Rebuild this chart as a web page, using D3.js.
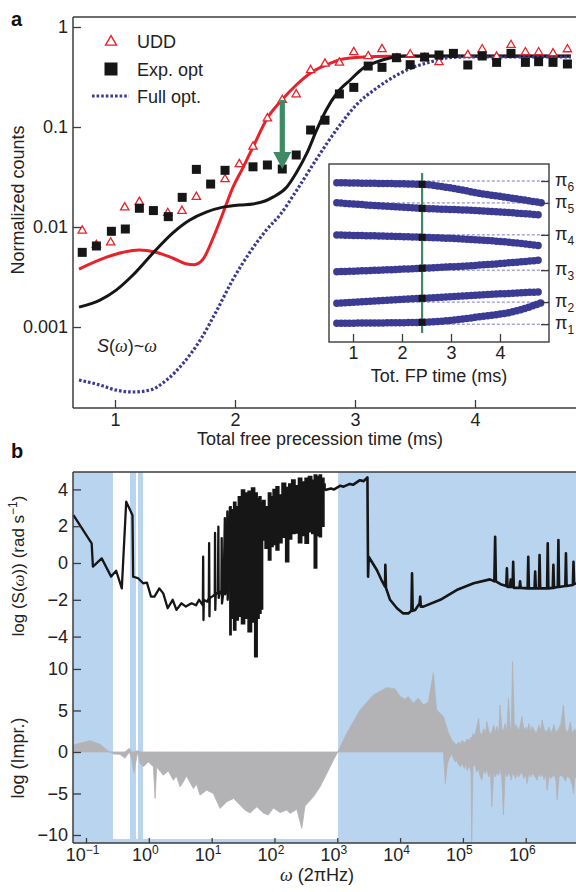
<!DOCTYPE html>
<html><head><meta charset="utf-8">
<script src="https://cdn.jsdelivr.net/npm/d3@7"></script>
<style>
body{margin:0;background:#fff;}
svg{display:block;font-family:"Liberation Sans",Arial,Helvetica,sans-serif;}
</style></head><body>
<svg id="chart" width="576" height="892"></svg>
<script>
// ---------------- Panel a data ----------------
const udaT = [0.727,0.845,0.964,1.081,1.203,1.44,1.558,1.678,1.917,2.036,2.15,2.27,2.394,2.51,2.63,2.75,2.87,2.99,3.11,3.225,3.35,3.46,3.58,3.70,3.94,4.06,4.18,4.30,4.42,4.53,4.65,4.77];
const udaV = [0.0092,0.0066,0.0070,0.0157,0.0178,0.0138,0.0145,0.0200,0.0300,0.0425,0.0636,0.122,0.186,0.212,0.37,0.43,0.44,0.56,0.51,0.60,0.486,0.533,0.49,0.444,0.525,0.598,0.505,0.66,0.558,0.558,0.545,0.598];
const expT = [0.727,0.845,0.97,1.086,1.203,1.32,1.444,1.56,1.678,1.797,1.917,2.15,2.27,2.394,2.51,2.63,2.75,2.87,2.99,3.11,3.225,3.345,3.46,3.58,3.70,3.82,3.94,4.06,4.18,4.30,4.42,4.53,4.65,4.77];
const expV = [0.00558,0.00646,0.00906,0.00955,0.0154,0.0146,0.0127,0.0198,0.0377,0.0269,0.0369,0.040,0.0417,0.038,0.0525,0.0933,0.117,0.214,0.249,0.407,0.395,0.493,0.42,0.50,0.525,0.545,0.417,0.513,0.443,0.545,0.443,0.45,0.443,0.427];
const uddFitT = [0.70,0.93,1.07,1.20,1.34,1.48,1.59,1.66,1.73,1.82,1.90,1.98,2.07,2.15,2.27,2.39,2.51,2.63,2.76,2.90,3.07,3.29,3.6,4.2,4.8];
const uddFitV = [0.0038,0.0050,0.0056,0.0059,0.0056,0.0049,0.0043,0.0042,0.0047,0.0079,0.0138,0.0245,0.040,0.063,0.123,0.186,0.263,0.347,0.417,0.479,0.501,0.51,0.51,0.51,0.51];
const expFitT = [0.70,0.875,1.01,1.15,1.34,1.48,1.62,1.76,1.90,2.04,2.15,2.25,2.32,2.43,2.51,2.60,2.68,2.76,2.85,2.96,3.07,3.18,3.29,3.40,4.0,4.8];
const expFitV = [0.00158,0.00186,0.00234,0.00331,0.00589,0.0087,0.0117,0.0141,0.0158,0.0166,0.0170,0.0182,0.020,0.025,0.0347,0.055,0.093,0.148,0.219,0.295,0.389,0.447,0.49,0.513,0.513,0.513];
const fullT = [0.70,0.875,1.01,1.15,1.29,1.43,1.57,1.71,1.85,1.98,2.12,2.26,2.375,2.51,2.68,2.85,3.01,3.18,3.35,3.49,3.63,3.76,3.9,4.3,4.8];
const fullV = [0.000295,0.000263,0.000234,0.000224,0.000234,0.000295,0.000437,0.00074,0.00148,0.00295,0.0055,0.0093,0.0132,0.0229,0.0479,0.0955,0.166,0.245,0.331,0.398,0.447,0.490,0.501,0.501,0.501];
const aYTicks = [0.001,0.01,0.1,1];
const aYTickLabels = ["0.001","0.01","0.1","1"];
const aXTicks = [1,2,3,4];
const arrowT = 2.394, arrowFrom = 0.186, arrowTo = 0.038;

// inset: pulse positions (fraction of total time) vs total FP time
const p6T = [0.67,1.5,2.41,3.0,3.59,4.27,4.85], p6V = [0.939,0.935,0.929,0.906,0.872,0.841,0.813];
const p5T = [0.67,2.41,3.59,4.85], p5V = [0.813,0.778,0.763,0.736];
const p4T = [0.67,2.41,3.59,4.27,4.85], p4V = [0.610,0.596,0.579,0.562,0.541];
const p3T = [0.67,2.41,3.59,4.85], p3V = [0.379,0.401,0.421,0.453];
const p2T = [0.67,2.41,3.59,4.85], p2V = [0.181,0.212,0.233,0.253];
const p1T = [0.67,2.41,3.59,4.27,4.85], p1V = [0.055,0.061,0.096,0.128,0.184];
const insetMarkT = 2.41;
const piTicks = [0.049,0.188,0.389,0.611,0.812,0.950];
const piLabels = ["1","2","3","4","5","6"];
const insetXTicks = [1,2,3,4];

// ---------------- Panel b data ----------------
const noiseLw = [-1.2,-0.91,-0.89,-0.75,-0.60,-0.52,-0.43,-0.36,-0.26,-0.25,-0.17,-0.09,-0.03,0.035,0.09,0.167,0.23,0.30,0.38,0.44,0.52,0.59,0.68,0.75,0.80,0.86,0.865,0.87,0.875,0.93,0.955,0.96,0.965,0.97,1.02,1.05,1.054,1.058,1.065,1.10,1.107,1.112,1.13,1.155,1.16,1.165,1.19,1.21,1.215,1.23,1.25,1.255,1.27,1.29];
const noiseV  = [2.6,1.07,-0.2,0.25,-0.74,-0.42,-1.38,3.33,2.6,-0.74,-0.83,-1.1,-1.07,-1.83,-1.83,-1.38,-1.65,-2.46,-2.0,-2.55,-2.19,-2.37,-2.19,-2.3,-2.0,-2.3,0.34,-3.1,-2.0,-2.1,-1.9,1.08,-2.9,-1.9,-1.8,-1.7,1.63,-2.55,-1.7,-1.6,1.97,-1.9,-1.6,-1.5,1.35,-2.2,-1.5,2.44,-1.7,-1.4,2.8,-2.0,-1.4,3.06];
const denseLw = [1.29,1.33,1.37,1.40,1.45,1.50,1.55,1.61,1.66,1.71,1.74,1.77,1.80,1.823,1.877,1.93,1.956,2.00,2.05,2.09,2.15,2.206,2.248,2.30,2.355,2.408,2.46,2.514,2.567,2.62,2.646,2.70,2.726,2.77,2.806];
const denseHi = [3.06,2.9,3.3,3.06,3.6,3.97,3.8,3.9,4.07,3.8,3.5,3.6,3.3,3.4,3.06,3.8,3.6,4.0,4.15,3.7,4.33,4.1,4.3,4.51,4.2,4.6,4.4,4.6,4.7,4.5,4.78,4.7,4.78,4.6,4.3];
const denseLo = [-3.9,-3.0,-3.64,-3.1,-2.9,-3.3,-3.0,-3.73,-3.2,-5.1,-3.0,-2.73,-2.5,1.25,0.8,0.16,0.9,1.0,0.7,1.1,1.4,0.07,1.3,1.6,1.63,1.1,1.5,1.08,1.7,1.6,-0.27,1.5,1.43,2.0,3.97];
const tailLw = [2.806,2.90,2.95,3.05,3.10,3.20,3.25,3.36,3.42,3.48,3.49,3.50,3.63,3.70,3.76,3.765,3.775,3.84,3.95,4.05,4.13,4.18,4.19,4.20,4.24,4.31,4.32,4.33,4.37,4.64,4.90,5.17,5.43,5.50,5.513,5.525,5.60,5.69,5.70,5.71,5.75,5.76,5.77,5.79,5.80,5.81,5.90,5.91,5.92,6.03,6.04,6.05,6.14,6.15,6.16,6.21,6.22,6.23,6.34,6.35,6.36,6.43,6.44,6.45,6.51,6.52,6.53,6.63,6.64,6.65,6.75,6.76,6.77,6.8];
const tailV  = [3.97,4.05,4.0,4.2,4.15,4.3,4.25,4.5,4.45,4.65,-0.74,0.34,-0.38,-0.9,-1.29,-0.1,-1.35,-2.0,-2.46,-2.74,-2.74,-2.6,-0.56,-2.6,-2.55,-2.2,-1.83,-2.37,-2.37,-2.0,-1.47,-1.1,-0.89,-1.0,1.43,-1.0,-1.15,-1.25,-0.29,-1.3,-1.3,-0.9,-1.3,-1.3,0.07,-1.35,-1.35,-1.0,-1.35,-1.38,0.34,-1.38,-1.38,-0.47,-1.38,-1.38,0.43,-1.38,-1.38,1.07,-1.38,-1.35,-0.1,-1.35,-1.3,1.25,-1.3,-1.25,0.53,-1.25,-1.2,0.07,-1.15,-1.1];
const imprLw = [-1.2,-0.936,-0.777,-0.67,-0.62,-0.565,-0.46,-0.38,-0.31,-0.27,-0.236,-0.18,-0.14,-0.088,-0.008,0.072,0.10,0.126,0.23,0.31,0.39,0.44,0.497,0.55,0.60,0.71,0.76,0.815,0.92,1.027,1.08,1.134,1.24,1.35,1.452,1.53,1.611,1.72,1.823,1.90,1.983,2.09,2.196,2.248,2.355,2.435,2.487,2.62,2.726,2.833,2.94,3.008,3.151,3.363,3.575,3.788,3.92,4.0,4.08,4.13,4.21,4.29,4.37,4.45,4.53,4.58,
  4.69,4.72,4.75,4.77,4.80,4.82,4.85,4.88,4.90,4.93,
  4.96,4.99,5.02,5.04,5.07,5.10,5.13,5.14,5.16,5.19,
  5.22,5.25,5.27,5.30,5.33,5.36,5.38,5.41,5.44,5.46,
  5.49,5.52,5.54,5.57,5.59,5.62,5.645,5.67,5.70,5.725,
  5.75,5.77,5.79,5.82,5.84,5.86,5.89,5.92,5.94,5.97,
  6.00,6.02,6.05,6.08,6.10,6.13,6.16,6.18,6.21,6.24,
  6.26,6.29,6.32,6.34,6.37,6.40,6.42,6.45,6.48,6.50,
  6.53,6.56,6.60,6.63,6.66,6.68,6.71,6.74,6.76,6.78,
  6.80];
const imprHi = [0.84,1.36,0.93,0.24,0,0,0,0,0.44,0,0,0.16,0,0,0,0,0,0,0,0,0,0,0,0,0,0,0,0,0,0,0,0,0,0,0,0,0,0,0,0,0,0,0,0,0,0,0,0,0,0,0,0,2.25,5.06,6.87,7.75,7.6,6.67,6.35,6.67,5.86,6.5,5.66,6.0,9.55,5.06,
  4.26,3.5,2.8,2.25,1.8,1.5,1.2,1.0,0.84,1.2,
  1.0,1.4,1.1,1.2,1.6,1.3,1.8,1.5,2.2,2.0,
  3.0,4.06,2.4,2.0,2.8,2.2,3.66,2.6,2.0,2.5,
  3.2,2.4,3.06,2.2,5.66,2.8,2.5,3.4,2.6,6.46,
  3.0,2.4,10.9,2.7,3.3,3.0,2.6,3.5,4.26,2.6,
  3.0,2.5,3.4,2.4,3.06,2.7,2.3,2.5,3.2,2.6,
  3.86,2.8,2.4,2.5,3.0,2.2,2.6,3.3,2.4,2.5,
  2.9,3.4,5.66,2.8,2.4,2.5,3.6,2.2,2.5,2.8,
  2.25];
const imprLo = [0,0,0,0,0,-0.24,-0.28,-0.76,0,-0.9,-2.5,0,-1.37,-1.77,-1.2,-1.77,-5.6,-1.8,-2.8,-2.3,-3.4,-2.9,-4.2,-3.6,-2.9,-4.4,-3.9,-5.2,-4.6,-5.0,-5.9,-6.8,-6.0,-5.6,-6.4,-7.0,-7.35,-6.6,-7.35,-7.6,-6.75,-7.3,-7.0,-7.4,-6.9,-9.2,-6.5,-5.4,-4.2,-2.6,-0.96,0,0,0,0,0,0,0,0,0,0,0,0,0,0,0,
  0,-3.8,-1.5,-1.0,-0.5,-0.2,-0.8,-1.2,-1.0,-1.5,
  -1.8,-1.3,-2.0,-1.5,-2.2,-1.6,-2.5,-10.8,-1.8,-1.5,
  -2.4,-2.0,-2.8,-3.4,-2.2,-2.6,-2.0,-3.0,-2.5,-6.6,
  -2.4,-3.0,-2.5,-2.8,-2.0,-3.2,-7.6,-2.6,-3.0,-2.5,
  -2.8,-3.4,-2.6,-2.8,-3.2,-2.6,-3.0,-2.5,-2.5,-3.2,
  -2.7,-3.8,-2.6,-3.0,-2.5,-2.8,-3.1,-3.4,-2.6,-3.0,
  -2.5,-3.3,-2.8,-4.6,-2.9,-3.2,-3.0,-2.7,-3.4,-5.8,
  -3.0,-2.8,-3.0,-3.5,-2.9,-3.0,-3.3,-4.0,-5.0,-3.2,
  -3.0];
const shadeFrom = [-1.207,-0.30,-0.172,3.013];
const shadeTo   = [-0.57,-0.204,-0.092,6.8];
const bXTicks = [-1,0,1,2,3,4,5,6];
const bTopTicks = [-4,-2,0,2,4];
const bBotTicks = [-10,-5,0,5,10];

// ---------------- drawing ----------------
const svg = d3.select("#chart");
const AX = "#3c3c3c", RED = "#e8212b", BLK = "#161616", NAVY = "#3b3b93", GREEN = "#3e8a65";
const BLUE = "#b9d4ee", GREY = "#b3b3b6";
const minus = v => (v < 0 ? "\u2212" + (-v) : String(v));

// ===== Panel a =====
const xA = d3.scaleLinear().domain([0.65, 4.84]).range([73, 575.8]);
const yA = d3.scaleLog().domain([0.000155, 1.259]).range([408, 17]);
const lineA = (T, V) => d3.line().x((d, i) => xA(T[i])).y((d, i) => yA(V[i])).curve(d3.curveMonotoneX)(T);

const gA = svg.append("g");
gA.append("path").attr("d", lineA(uddFitT, uddFitV)).attr("fill", "none").attr("stroke", RED).attr("stroke-width", 3);
gA.append("path").attr("d", lineA(expFitT, expFitV)).attr("fill", "none").attr("stroke", BLK).attr("stroke-width", 3);
gA.append("path").attr("d", lineA(fullT, fullV)).attr("fill", "none").attr("stroke", NAVY).attr("stroke-width", 3.2).attr("stroke-dasharray", "2.6,2");

const tri = d3.symbol().type(d3.symbolTriangle);
gA.selectAll(".tri").data(udaT).join("path")
  .attr("transform", (d, i) => `translate(${xA(d)},${yA(udaV[i])})`)
  .attr("d", tri.size(30)()).attr("fill", "#fff").attr("stroke", RED).attr("stroke-width", 1.3);
gA.selectAll(".sq").data(expT).join("rect")
  .attr("x", d => xA(d) - 4.5).attr("y", (d, i) => yA(expV[i]) - 4.5)
  .attr("width", 9).attr("height", 9).attr("fill", BLK);

// arrow
{
  const ax = xA(arrowT), y0 = yA(arrowFrom), y1 = yA(arrowTo);
  gA.append("rect").attr("x", ax - 2.6).attr("y", y0).attr("width", 5.2).attr("height", y1 - y0 - 15).attr("fill", GREEN);
  gA.append("path").attr("d", `M${ax - 9},${y1 - 17}L${ax + 9},${y1 - 17}L${ax},${y1}Z`).attr("fill", GREEN);
}

// axes panel a
gA.append("line").attr("x1", 73).attr("x2", 576).attr("y1", 17).attr("y2", 17).attr("stroke", AX).attr("stroke-width", 1.5);
const axAY = gA.append("g").attr("transform", "translate(73,0)")
  .call(d3.axisLeft(yA).tickValues(aYTicks).tickFormat((d, i) => aYTickLabels[i]).tickSize(-8).tickSizeOuter(0).tickPadding(5));
const axAX = gA.append("g").attr("transform", "translate(0,408)")
  .call(d3.axisBottom(xA).tickValues(aXTicks).tickFormat(d3.format("d")).tickSize(-8).tickSizeOuter(0).tickPadding(5));
[axAY, axAX].forEach(g => {
  g.attr("font-size", 18).attr("font-family", null).style("color", AX);
  g.select(".domain").remove();
  g.selectAll(".tick line").attr("stroke-width", 1.3);
  g.selectAll("text").attr("fill", "#222");
});
gA.append("line").attr("x1", 73).attr("x2", 73).attr("y1", 17).attr("y2", 408).attr("stroke", AX).attr("stroke-width", 1.5);
gA.append("line").attr("x1", 73).attr("x2", 576).attr("y1", 408).attr("y2", 408).attr("stroke", AX).attr("stroke-width", 1.5);

gA.append("text").attr("transform", "translate(24,200) rotate(-90)").attr("text-anchor", "middle")
  .attr("font-size", 18).attr("fill", "#222").text("Normalized counts");
gA.append("text").attr("x", 320).attr("y", 445).attr("text-anchor", "middle")
  .attr("font-size", 18).attr("fill", "#222").text("Total free precession time (ms)");
svg.append("text").attr("x", 11).attr("y", 26).attr("font-size", 20).attr("font-weight", "bold").attr("fill", "#111").text("a");

// S(w)~w annotation
{
  const t = gA.append("text").attr("x", 97).attr("y", 352).attr("font-size", 18).attr("fill", "#222");
  t.append("tspan").attr("font-style", "italic").text("S");
  t.append("tspan").text("(");
  t.append("tspan").attr("font-style", "italic").attr("font-family", "Liberation Serif, serif").text("\u03c9");
  t.append("tspan").text(")~");
  t.append("tspan").attr("font-style", "italic").attr("font-family", "Liberation Serif, serif").text("\u03c9");
}

// legend
{
  const lg = gA.append("g");
  lg.append("path").attr("transform", "translate(111,42)").attr("d", tri.size(52)()).attr("fill", "#fff").attr("stroke", RED).attr("stroke-width", 1.4);
  lg.append("text").attr("x", 137).attr("y", 47.5).attr("font-size", 18).attr("fill", "#222").text("UDD");
  lg.append("rect").attr("x", 104.5).attr("y", 62.5).attr("width", 13).attr("height", 13).attr("fill", BLK);
  lg.append("text").attr("x", 137).attr("y", 75.5).attr("font-size", 18).attr("fill", "#222").text("Exp. opt");
  lg.append("line").attr("x1", 92).attr("x2", 129).attr("y1", 96).attr("y2", 96).attr("stroke", NAVY).attr("stroke-width", 3.2).attr("stroke-dasharray", "2.6,2");
  lg.append("text").attr("x", 137).attr("y", 102.5).attr("font-size", 18).attr("fill", "#222").text("Full opt.");
}

// inset
{
  const xI = d3.scaleLinear().domain([0.51, 5.0]).range([329, 549]);
  const yI = d3.scaleLinear().domain([-0.063, 1.057]).range([342, 164]);
  const gI = svg.append("g");
  gI.append("rect").attr("x", 329).attr("y", 164).attr("width", 220).attr("height", 178).attr("fill", "#fff");
  gI.selectAll(".lev").data(piTicks).join("line")
    .attr("x1", xI(0.67)).attr("x2", 549).attr("y1", d => yI(d)).attr("y2", d => yI(d))
    .attr("stroke", "#6b6bb5").attr("stroke-width", 0.9).attr("stroke-dasharray", "3,2");
  const series = [[p1T, p1V], [p2T, p2V], [p3T, p3V], [p4T, p4V], [p5T, p5V], [p6T, p6V]];
  const lineI = (T, V) => d3.line().x((d, i) => xI(T[i])).y((d, i) => yI(V[i])).curve(d3.curveMonotoneX)(T);
  series.forEach(([T, V]) => {
    gI.append("path").attr("d", lineI(T, V)).attr("fill", "none").attr("stroke", NAVY)
      .attr("stroke-width", 7.5).attr("stroke-linecap", "round").attr("stroke-dasharray", "0,4.2");
  });
  gI.append("line").attr("x1", xI(insetMarkT)).attr("x2", xI(insetMarkT)).attr("y1", yI(1.0)).attr("y2", yI(-0.006))
    .attr("stroke", GREEN).attr("stroke-width", 2.2);
  series.forEach(([T, V]) => {
    const v = V[T.indexOf(insetMarkT)];
    gI.append("rect").attr("x", xI(insetMarkT) - 3.5).attr("y", yI(v) - 3.5).attr("width", 7).attr("height", 7).attr("fill", BLK);
  });
  gI.append("rect").attr("x", 329).attr("y", 164).attr("width", 220).attr("height", 178).attr("fill", "none").attr("stroke", AX).attr("stroke-width", 1.4);
  const axIX = gI.append("g").attr("transform", "translate(0,342)")
    .call(d3.axisBottom(xI).tickValues(insetXTicks).tickFormat(d3.format("d")).tickSize(-8).tickSizeOuter(0).tickPadding(4));
  const axIY = gI.append("g").attr("transform", "translate(549,0)")
    .call(d3.axisRight(yI).tickValues(piTicks).tickFormat("").tickSize(-8).tickSizeOuter(0));
  [axIX, axIY].forEach(g => {
    g.attr("font-size", 18).attr("font-family", null).style("color", AX);
    g.select(".domain").remove();
    g.selectAll(".tick line").attr("stroke-width", 1.3);
    g.selectAll("text").attr("fill", "#222");
  });
  piTicks.forEach((p, i) => {
    const t = gI.append("text").attr("x", 555).attr("y", yI(p) + 5).attr("font-size", 18).attr("fill", "#222");
    t.append("tspan").text("\u03c0");
    t.append("tspan").attr("font-size", 12).attr("dy", 5).text(piLabels[i]);
  });
  gI.append("text").attr("x", 439).attr("y", 382).attr("text-anchor", "middle").attr("font-size", 18).attr("fill", "#222").text("Tot. FP time (ms)");
}

// ===== Panel b =====
const xB = d3.scaleLinear().domain([-1.207, 6.8]).range([73, 576]);
const yBt = d3.scaleLinear().domain([-5, 5]).range([655, 471]);
const yBb = d3.scaleLinear().domain([-11, 11.5]).range([843.3, 656.5]);
const gB = svg.append("g");
shadeFrom.forEach((a, i) => {
  gB.append("rect").attr("x", xB(a)).attr("y", 472).attr("width", xB(shadeTo[i]) - xB(a)).attr("height", 371).attr("fill", BLUE);
});
gB.append("rect").attr("x", 73).attr("y", 839).attr("width", 503).attr("height", 4).attr("fill", BLUE);

// improvement (grey)
gB.append("path").attr("d", d3.area().x((d, i) => xB(imprLw[i])).y0((d, i) => yBb(imprLo[i])).y1((d, i) => yBb(imprHi[i]))(imprLw))
  .attr("fill", GREY).attr("stroke", GREY).attr("stroke-width", 0.8).attr("stroke-linejoin", "bevel");

// noise spectrum (black)
const lineB = (X, Y) => d3.line().x((d, i) => xB(X[i])).y((d, i) => yBt(Y[i]))(X);
gB.append("path").attr("d", lineB(noiseLw, noiseV)).attr("fill", "none").attr("stroke", BLK).attr("stroke-width", 2.3).attr("stroke-linejoin", "round");
gB.append("path").attr("d", d3.area().x((d, i) => xB(denseLw[i])).y0((d, i) => yBt(denseLo[i])).y1((d, i) => yBt(denseHi[i])).curve(d3.curveStep)(denseLw))
  .attr("fill", BLK).attr("stroke", BLK).attr("stroke-width", 1.5);
gB.append("path").attr("d", lineB(tailLw, tailV)).attr("fill", "none").attr("stroke", BLK).attr("stroke-width", 2.6).attr("stroke-linejoin", "round");

// frame & axes panel b
gB.append("line").attr("x1", 73).attr("x2", 576).attr("y1", 472).attr("y2", 472).attr("stroke", AX).attr("stroke-width", 1.5);
gB.append("line").attr("x1", 73).attr("x2", 73).attr("y1", 472).attr("y2", 843).attr("stroke", AX).attr("stroke-width", 1.5);
gB.append("line").attr("x1", 73).attr("x2", 576).attr("y1", 843).attr("y2", 843).attr("stroke", AX).attr("stroke-width", 1.5);
const axBT = gB.append("g").attr("transform", "translate(73,0)")
  .call(d3.axisLeft(yBt).tickValues(bTopTicks).tickFormat(minus).tickSize(-8).tickSizeOuter(0).tickPadding(5));
const axBB = gB.append("g").attr("transform", "translate(73,0)")
  .call(d3.axisLeft(yBb).tickValues(bBotTicks).tickFormat(minus).tickSize(-8).tickSizeOuter(0).tickPadding(5));
const axBX = gB.append("g").attr("transform", "translate(0,843)")
  .call(d3.axisBottom(xB).tickValues(bXTicks).tickFormat(() => "10").tickSize(-5).tickSizeOuter(0).tickPadding(5));
[axBT, axBB, axBX].forEach(g => {
  g.attr("font-size", 18).attr("font-family", null).style("color", AX);
  g.select(".domain").remove();
  g.selectAll(".tick line").attr("stroke-width", 1.3);
  g.selectAll("text").attr("fill", "#222");
});
axBX.selectAll(".tick text").attr("x", -4).each(function (d) {
  d3.select(this).append("tspan").attr("dy", -7).attr("font-size", 12).text(minus(d));
});

{
  const t = gB.append("text").attr("transform", "translate(24,566) rotate(-90)").attr("text-anchor", "middle").attr("font-size", 17).attr("fill", "#222");
  t.append("tspan").text("log (S(");
  t.append("tspan").attr("font-style", "italic").attr("font-family", "Liberation Serif, serif").text("\u03c9");
  t.append("tspan").text(")) (rad s");
  t.append("tspan").attr("font-size", 12).attr("dy", -7).text("\u22121");
  t.append("tspan").attr("dy", 7).text(")");
}
gB.append("text").attr("transform", "translate(24,758) rotate(-90)").attr("text-anchor", "middle").attr("font-size", 18).attr("fill", "#222").text("log (Impr.)");
{
  const t = gB.append("text").attr("x", 317).attr("y", 881).attr("text-anchor", "middle").attr("font-size", 18).attr("fill", "#222");
  t.append("tspan").attr("font-style", "italic").attr("font-family", "Liberation Serif, serif").text("\u03c9");
  t.append("tspan").text(" (2\u03c0Hz)");
}
svg.append("text").attr("x", 11).attr("y", 458).attr("font-size", 20).attr("font-weight", "bold").attr("fill", "#111").text("b");
</script>
</body></html>
